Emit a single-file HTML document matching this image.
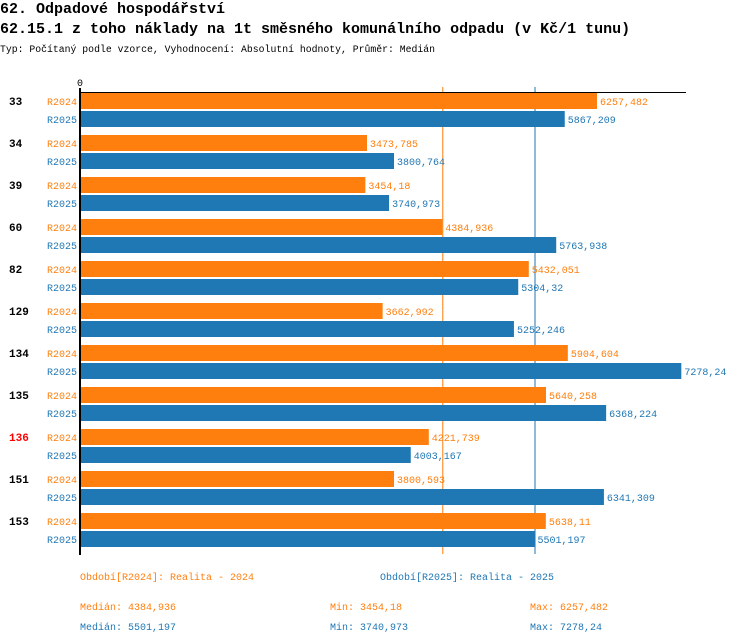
<!DOCTYPE html>
<html><head><meta charset="utf-8">
<style>
body{margin:0;background:#fff;width:750px;height:644px;overflow:hidden;font-family:"Liberation Mono","DejaVu Sans Mono",monospace;}
.t{position:absolute;white-space:nowrap;}
</style></head><body>
<div class="t" style="left:0;top:1px;font-size:15px;font-weight:bold;">62. Odpadové hospodářství</div>
<div class="t" style="left:0;top:21px;font-size:15px;font-weight:bold;">62.15.1 z toho náklady na 1t směsného komunálního odpadu (v Kč/1 tunu)</div>
<div class="t" style="left:0;top:44px;font-size:9.8px;">Typ: Počítaný podle vzorce, Vyhodnocení: Absolutní hodnoty, Průměr: Medián</div>
<svg id="c" width="750" height="644" style="position:absolute;left:0;top:0" font-family="Liberation Mono, DejaVu Sans Mono, monospace" font-size="10"></svg>
<script>
const categories=["33","34","39","60","82","129","134","135","136","151","153"];
const highlighted=["136"];
const series2024=[6257.482,3473.785,3454.18,4384.936,5432.051,3662.992,5904.604,5640.258,4221.739,3800.593,5638.11];
const series2025=[5867.209,3800.764,3740.973,5763.938,5304.32,5252.246,7278.24,6368.224,4003.167,6341.309,5501.197];
const labels2024=["6257,482","3473,785","3454,18","4384,936","5432,051","3662,992","5904,604","5640,258","4221,739","3800,593","5638,11"];
const labels2025=["5867,209","3800,764","3740,973","5763,938","5304,32","5252,246","7278,24","6368,224","4003,167","6341,309","5501,197"];
const median2024=4384.936, median2025=5501.197;
const svg=document.getElementById('c');const NS='http://www.w3.org/2000/svg';
const O='#ff7f0e',B='#1f77b4';
function x(v){return 80+v*0.08262;}
function y(i){return 93+i*42;}
function mk(t,a,txt){const e=document.createElementNS(NS,t);for(const k in a)e.setAttribute(k,a[k]);if(txt!==undefined)e.textContent=txt;svg.appendChild(e);return e;}
let l=mk('line',{x1:x(median2024)+0.5,x2:x(median2024)+0.5,y1:87,y2:554,stroke:O,'stroke-width':1});


l=mk('line',{x1:x(median2025)+0.5,x2:x(median2025)+0.5,y1:87,y2:554,stroke:B,'stroke-width':1});


categories.forEach((c,i)=>{
  let r=mk('rect',{x:80,y:y(i),width:x(series2024[i])-80,height:16,fill:O});
  
  
  r=mk('rect',{x:80,y:y(i)+18,width:x(series2025[i])-80,height:16,fill:B});
  
  
  let t=mk('text',{x:9,y:y(i)+12,'font-weight':'bold','font-size':11,fill:highlighted.includes(c)?'#ff0000':'#000'},c);
  
  
  t=mk('text',{x:77,y:y(i)+12,'text-anchor':'end',fill:O},'R2024');
  
  
  t=mk('text',{x:77,y:y(i)+30,'text-anchor':'end',fill:B},'R2025');
  
  
  t=mk('text',{x:x(series2024[i])+3,y:y(i)+12,fill:O},labels2024[i]);
  
  
  t=mk('text',{x:x(series2025[i])+3,y:y(i)+30,fill:B},labels2025[i]);
  
  
});
l=mk('line',{x1:80,x2:686,y1:92.5,y2:92.5,stroke:'#000','stroke-width':1});


l=mk('line',{x1:80,x2:80,y1:88,y2:555,stroke:'#000','stroke-width':2});


let z=mk('text',{x:80,y:86,'text-anchor':'middle','font-size':10},'0');


const foot=[[80,580,O,'Období[R2024]: Realita - 2024','legend-r2024'],[380,580,B,'Období[R2025]: Realita - 2025','legend-r2025'],
[80,610,O,'Medián: 4384,936','median-r2024'],[330,610,O,'Min: 3454,18','min-r2024'],[530,610,O,'Max: 6257,482','max-r2024'],
[80,630,B,'Medián: 5501,197','median-r2025'],[330,630,B,'Min: 3740,973','min-r2025'],[530,630,B,'Max: 7278,24','max-r2025']];
foot.forEach(f=>{const t=mk('text',{x:f[0],y:f[1],fill:f[2]},f[3]);

});
</script>
</body></html>
